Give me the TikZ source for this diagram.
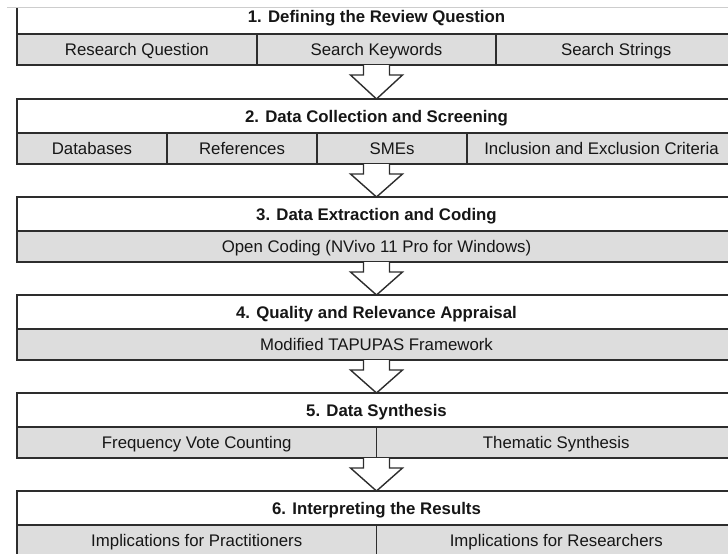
\documentclass[tikz,border=0pt]{standalone}
\usepackage{fontspec}
\setmainfont{Liberation Sans}
\usetikzlibrary{calc}
\definecolor{cellgray}{RGB}{221,221,221}
\definecolor{edge}{RGB}{45,45,45}
\definecolor{ink}{RGB}{22,22,22}
\definecolor{rulegray}{RGB}{205,205,205}

% hollow block arrow from the bottom midpoint #1 of one stage to the title node #2 of the next
\newcommand\stagearrow[2]{%
  \draw[flowarrow] ($(#1)+(-13,0)$) -- ++(0,10) -- ++(-13,0) -- (#2.north)
    -- ($(#1)+(26,10)$) -- ++(-13,0) -- ++(0,-10);}

\begin{document}
\begin{tikzpicture}[x=1pt,y=-1pt,
  cell/.style={draw=edge, line width=1.8pt, rectangle, inner sep=0pt, outer sep=0pt,
    text=ink, font=\fontsize{16.8}{20}\selectfont, minimum height=31pt,
    text height=13pt, text depth=1pt},
  titlecell/.style={cell, fill=white, font=\fontsize{16.8}{20}\selectfont\bfseries,
    minimum height=34pt, minimum width=719pt},
  subcell/.style={cell, fill=cellgray},
  flowarrow/.style={draw=edge, line width=1.4pt, fill=white, line join=miter}]
\useasboundingbox (0,0) rectangle (728,554);

% stage 1
\node[titlecell] (t1) at (376.5,17) {1. Defining the Review Question};
\node[subcell, minimum width=239.67pt] (s1a) at (136.83,49.5) {Research Question};
\node[subcell, minimum width=239.67pt] (s1b) at (376.5,49.5) {Search Keywords};
\node[subcell, minimum width=239.67pt] (s1c) at (616.17,49.5) {Search Strings};

% stage 2
\node[titlecell] (t2) at (376.5,116) {2. Data Collection and Screening};
\node[subcell, minimum width=150pt] (s2a) at (92,148.5) {Databases};
\node[subcell, minimum width=150pt] (s2b) at (242,148.5) {References};
\node[subcell, minimum width=150pt] (s2c) at (392,148.5) {SMEs};
\node[subcell, minimum width=269pt] (s2d) at (601.5,148.5) {Inclusion and Exclusion Criteria};

% stage 3
\node[titlecell] (t3) at (376.5,214) {3. Data Extraction and Coding};
\node[subcell, minimum width=719pt] (s3a) at (376.5,246.5) {Open Coding (NVivo 11 Pro for Windows)};

% stage 4
\node[titlecell] (t4) at (376.5,312) {4. Quality and Relevance Appraisal};
\node[subcell, minimum width=719pt] (s4a) at (376.5,344.5) {Modified TAPUPAS Framework};

% stage 5
\node[titlecell] (t5) at (376.5,410) {5. Data Synthesis};
\node[subcell, minimum width=359.5pt] (s5a) at (196.75,442.5) {Frequency Vote Counting};
\node[subcell, minimum width=359.5pt] (s5b) at (556.25,442.5) {Thematic Synthesis};

% stage 6
\node[titlecell] (t6) at (376.5,508) {6. Interpreting the Results};
\node[subcell, minimum width=359.5pt] (s6a) at (196.75,540.5) {Implications for Practitioners};
\node[subcell, minimum width=359.5pt] (s6b) at (556.25,540.5) {Implications for Researchers};

% bottom midpoints of the stages
\coordinate (b1) at (t2.north |- s1b.south);
\coordinate (b2) at (t3.north |- s2a.south);
\coordinate (b3) at (t4.north |- s3a.south);
\coordinate (b4) at (t5.north |- s4a.south);
\coordinate (b5) at (t6.north |- s5a.south);

\stagearrow{b1}{t2}
\stagearrow{b2}{t3}
\stagearrow{b3}{t4}
\stagearrow{b4}{t5}
\stagearrow{b5}{t6}

% page edge across the top
\fill[white] (0,-2) rectangle (728,6.8);
\draw[rulegray, line width=1.5pt] (7,7.5) -- (728,7.5);
\end{tikzpicture}
\end{document}
